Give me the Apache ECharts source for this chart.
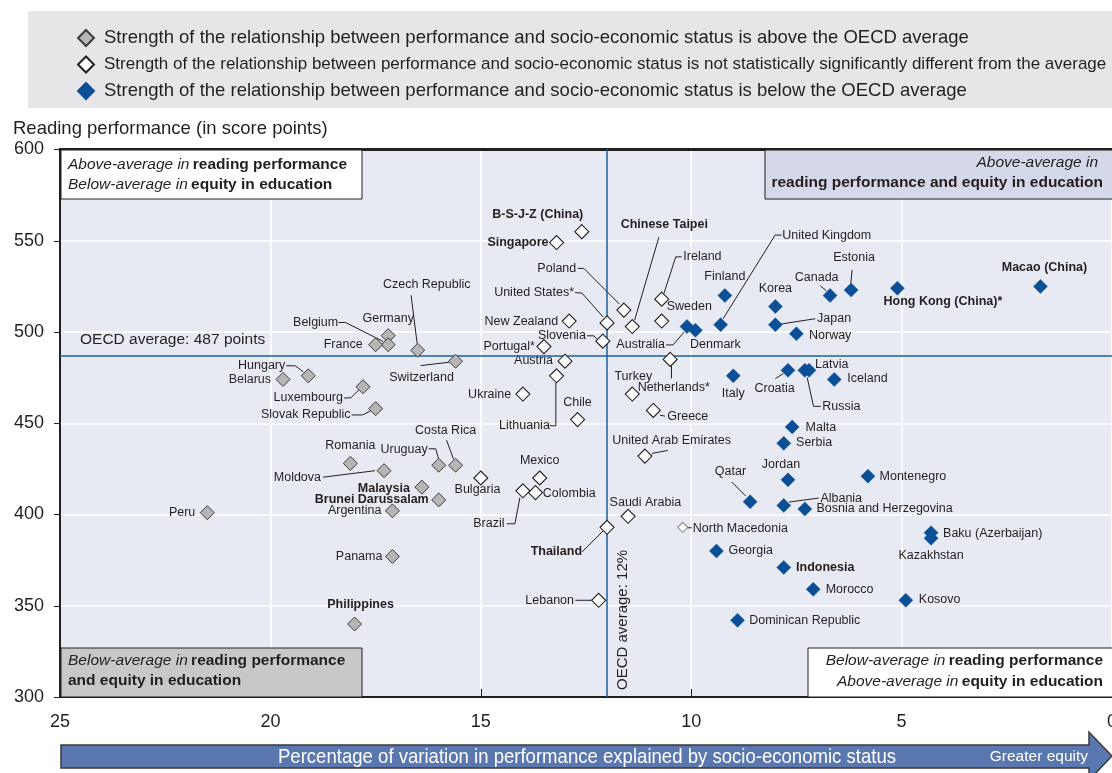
<!DOCTYPE html>
<html>
<head>
<meta charset="utf-8">
<script src="https://cdn.jsdelivr.net/npm/echarts@6/dist/echarts.min.js"></script>
<style>html,body{margin:0;padding:0;background:#fff;}#c{width:1112px;height:773px;}</style>
</head>
<body>
<div id="c"></div>
<script>
// ---------- DATA ----------
const X_TICKS = [25, 20, 15, 10, 5, 0];
const Y_TICKS = [300, 350, 400, 450, 500, 550, 600];
const OECD_AVG_SCORE = 487;
const OECD_AVG_PCT = 12;

const LEGEND_ABOVE = 'Strength of the relationship between performance and socio-economic status is above the OECD average';
const LEGEND_NS = 'Strength of the relationship between performance and socio-economic status is not statistically significantly different from the average';
const LEGEND_BELOW = 'Strength of the relationship between performance and socio-economic status is below the OECD average';

// above-average strength (grey)
const aboveNames = ['Peru','Philippines','Panama','Argentina','Moldova','Romania','Malaysia','Brunei Darussalam','Uruguay','Costa Rica','Switzerland','Czech Republic','Germany','Belgium','France','Hungary','Belarus','Luxembourg','Slovak Republic'];
const aboveVar   = [21.5, 18.0, 17.1, 17.1, 17.3, 18.1, 16.4, 16.0, 16.0, 15.6, 15.6, 16.5, 17.2, 17.2, 17.5, 19.1, 19.7, 17.8, 17.5];
const aboveScore = [401, 340, 377, 402, 424, 428, 415, 408, 427, 427, 484, 490, 498, 493, 493, 476, 474, 470, 458];

// not significantly different (white)
const nsNames = ['B-S-J-Z (China)','Singapore','Poland','United States*','Chinese Taipei','New Zealand','Slovenia','Portugal*','Austria','Lithuania','Ukraine','Chile','Ireland','Sweden','Netherlands*','Turkey','Greece','United Arab Emirates','Mexico','Bulgaria','Brazil','Colombia','Saudi Arabia','Thailand','Lebanon','North Macedonia'];
const nsVar   = [12.6, 13.2, 11.6, 12.0, 11.4, 12.9, 12.1, 13.5, 13.0, 13.2, 14.0, 12.7, 10.7, 10.7, 10.5, 11.4, 10.9, 11.1, 13.6, 15.0, 14.0, 13.7, 11.5, 12.0, 12.2, 10.2];
const nsScore = [555, 549, 512, 505, 503, 506, 495, 492, 484, 476, 466, 452, 518, 506, 485, 466, 457, 432, 420, 420, 413, 412, 399, 393, 353, 393];

// below-average strength (blue)
const belowNames = ['Finland','Australia','Denmark','United Kingdom','Italy','Korea','Japan','Norway','Canada','Estonia','Hong Kong (China)*','Macao (China)','Croatia','Russia','Latvia','Iceland','Malta','Serbia','Jordan','Montenegro','Qatar','Albania','Bosnia and Herzegovina','Baku (Azerbaijan)','Kazakhstan','Georgia','Indonesia','Morocco','Kosovo','Dominican Republic'];
const belowVar   = [9.2, 10.1, 9.9, 9.3, 9.0, 8.0, 8.0, 7.5, 6.7, 6.2, 5.1, 1.7, 7.7, 7.3, 7.2, 6.6, 7.6, 7.8, 7.7, 5.8, 8.6, 7.8, 7.3, 4.3, 4.3, 9.4, 7.8, 7.1, 4.9, 8.9];
const belowScore = [520, 503, 501, 504, 476, 514, 504, 499, 520, 523, 524, 525, 479, 479, 479, 474, 448, 439, 419, 421, 407, 405, 403, 390, 387, 380, 371, 359, 353, 342];

const BOLD_NAMES = ['B-S-J-Z (China)','Singapore','Chinese Taipei','Malaysia','Brunei Darussalam','Thailand','Philippines','Indonesia','Hong Kong (China)*','Macao (China)'];

// ---------- LABEL PLACEMENT (pixel offsets from the marker) ----------
const LABEL_PLACE = {
 'Peru': [-12,0,'r'],
 'Philippines': [6,-19,'c'],
 'Panama': [-10,0,'r'],
 'Argentina': [-11,0,'r'],
 'Brunei Darussalam': [-10,0,'r'],
 'Malaysia': [-12,1,'r'],
 'Moldova': [-63,7,'r',[[-61,6.5],[-9,0]]],
 'Romania': [0,-18,'c'],
 'Uruguay': [-11,-16,'r',[[-10,-16.4],[-3,-16.4],[0,-6]]],
 'Costa Rica': [-10,-35,'c',[[-9,-25],[-2,-6]]],
 'Switzerland': [-34,16,'c',[[-35,4.4],[-6,1]]],
 'Czech Republic': [9,-66,'c',[[-6.6,-55],[-0.5,-6.5]]],
 'Germany': [0,-17,'c'],
 'Belgium': [-50,-22.6,'r',[[-49.7,-22.3],[-42.7,-22.3],[-5,-3.3]]],
 'France': [-13,0,'r'],
 'Hungary': [-23,-10,'r',[[-22,-10],[-13,-10],[-5,-4]]],
 'Belarus': [-12,0,'r'],
 'Luxembourg': [-20,11,'r',[[-19,11.3],[-12,11],[-4,3]]],
 'Slovak Republic': [-25,6.3,'r',[[-24,6.3],[-13,6.3],[-5,2.3]]],
 'B-S-J-Z (China)': [-44,-17,'c'],
 'Singapore': [-8,0,'r'],
 'Poland': [-47.6,-41.7,'r',[[-46,-41.7],[-40,-41.7],[-4.5,-6]]],
 'United States*': [-33,-30.3,'r',[[-32,-30.3],[-25,-29.7],[-4,-6]]],
 'Chinese Taipei': [32,-101.6,'c',[[26.6,-89.3],[2.3,-6.3]]],
 'New Zealand': [-11,0,'r'],
 'Slovenia': [-17,-5.3,'r',[[-16,-5.3],[-9,-5.3],[-5,-1]]],
 'Portugal*': [-9,0,'r'],
 'Austria': [-12,-1,'r'],
 'Lithuania': [-6.7,50,'r',[[-6.7,50],[-0.7,50],[-0.7,7.3]]],
 'Ukraine': [-11.7,0,'r'],
 'Chile': [0,-17,'c'],
 'Ireland': [21.6,-42.3,'l',[[20,-42.3],[14,-42.3],[2.3,-6]]],
 'Sweden': [5,-15,'l'],
 'Netherlands*': [3.6,28,'c',[[1.3,6.7],[1.3,19]]],
 'Turkey': [1,-18,'c'],
 'Greece': [14,6.4,'l',[[6.7,4.7],[11.7,5.7]]],
 'United Arab Emirates': [26.7,-16,'c',[[23,-5.7],[7,-2.7]]],
 'Mexico': [0,-17.3,'c'],
 'Bulgaria': [-3.3,11.7,'c'],
 'Brazil': [-18.4,33,'r',[[-16,33],[-8,33],[-3,7]]],
 'Colombia': [7.3,1,'l'],
 'Saudi Arabia': [17.3,-14,'c'],
 'Thailand': [-25,24,'r',[[-25,24.6],[-3.3,3]]],
 'Lebanon': [-24.6,0,'r',[[-23.3,0],[-7,0]]],
 'North Macedonia': [10,1,'l',[[4,0.5],[9,0.5]]],
 'Finland': [0,-19,'c'],
 'Australia': [-22,18.4,'r',[[-21,18.4],[-14,18.4],[-3,5.7]]],
 'Denmark': [20,14,'c'],
 'United Kingdom': [61.6,-89.6,'l',[[61,-89.6],[54.5,-89.6],[2.5,-6]]],
 'Italy': [0,17.7,'c'],
 'Korea': [0,-18,'c'],
 'Japan': [41.7,-6,'l',[[4,-0.4],[40,-6]]],
 'Norway': [12.6,1.3,'l'],
 'Canada': [-13.4,-18,'c',[[-9.7,-9.7],[-3.7,-4.7]]],
 'Estonia': [3,-32.4,'c',[[1,-20],[-0.3,-6.7]]],
 'Hong Kong (China)*': [45.5,13.3,'c'],
 'Macao (China)': [4,-19,'c'],
 'Croatia': [-13.4,18.6,'c',[[-12.7,8.3],[-4.7,3.3]]],
 'Russia': [17.4,36,'l',[[16,36],[8.7,36],[2.4,7.3]]],
 'Latvia': [6,-5.7,'l'],
 'Iceland': [13,-1,'l'],
 'Malta': [13.4,0.7,'l'],
 'Serbia': [12.3,-0.6,'l'],
 'Jordan': [-7,-15.7,'c'],
 'Montenegro': [11.6,0.4,'l'],
 'Qatar': [-19.7,-30,'c',[[-18.4,-19.7],[-4.4,-5.7]]],
 'Albania': [36.6,-7,'l',[[5.3,-3.3],[35,-7.3]]],
 'Bosnia and Herzegovina': [11.7,0,'l'],
 'Baku (Azerbaijan)': [12,1,'l'],
 'Kazakhstan': [0,17.4,'c'],
 'Georgia': [12,0,'l'],
 'Indonesia': [12.3,0.6,'l'],
 'Morocco': [12.4,0.4,'l'],
 'Kosovo': [13,-0.6,'l'],
 'Dominican Republic': [11.7,0.3,'l']
};

// ---------- BUILD ----------
const INK = '#231f20';
const FONT = '"Liberation Sans", Arial, sans-serif';

function toItems(names, xs, ys) {
  return names.map((n, i) => {
    const it = { name: n, value: [xs[i], ys[i]] };
    if (n === 'North Macedonia') { it.symbolSize = 10; it.itemStyle = { borderColor: '#8a8a8a' }; }
    return it;
  });
}
const allNames = aboveNames.concat(nsNames, belowNames);
const allX = aboveVar.concat(nsVar, belowVar);
const allY = aboveScore.concat(nsScore, belowScore);
const labelData = allNames.map((n, i) => [allX[i], allY[i], i]);

const chart = echarts.init(document.getElementById('c'), null, { renderer: 'canvas' });

const boxRich = {
  i: { fontFamily: FONT, fontSize: 15.5, fontStyle: 'italic', fill: INK },
  b: { fontFamily: FONT, fontSize: 15.5, fontWeight: 'bold', fill: INK }
};

const option = {
  animation: false,
  backgroundColor: '#ffffff',
  grid: { left: 60, right: 0, top: 149.5, bottom: 76, show: true, backgroundColor: '#e8eaf3', borderWidth: 0, outerBoundsMode: 'none', containLabel: false },
  legend: {
    orient: 'vertical', left: 72, top: 23, itemGap: 6.5, itemWidth: 16, itemHeight: 16,
    data: [LEGEND_ABOVE, LEGEND_NS, LEGEND_BELOW],
    formatter: function (name) { return name === LEGEND_NS ? '{n|' + name + '}' : '{w|' + name + '}'; },
    textStyle: { fontFamily: FONT, fontSize: 18.5, color: INK, lineHeight: 20, padding: [0, 0, 0, 5],
      rich: { w: { fontFamily: FONT, fontSize: 18.5, color: INK, lineHeight: 20 }, n: { fontFamily: FONT, fontSize: 17, color: INK, lineHeight: 20 } } },
    selectedMode: false, z: 20
  },
  xAxis: [{
    type: 'value', inverse: true, min: 0, max: 25, interval: 5,
    axisLine: { show: true, onZero: false, lineStyle: { color: INK, width: 2 } },
    axisTick: { show: true, inside: true, length: 8, lineStyle: { color: INK, width: 1 } },
    axisLabel: { show: true, margin: 16, fontFamily: FONT, fontSize: 18, color: INK,
      formatter: v => X_TICKS.indexOf(v) >= 0 ? String(v) : '' },
    splitLine: { show: true, lineStyle: { color: '#ffffff', width: 1.5 } }
  }, {
    type: 'value', inverse: true, min: 0, max: 25, position: 'top',
    axisLine: { show: true, onZero: false, lineStyle: { color: INK, width: 3 } },
    axisTick: { show: false }, axisLabel: { show: false }, splitLine: { show: false }
  }],
  yAxis: {
    type: 'value', min: 300, max: 600, interval: 50,
    axisLine: { show: true, onZero: false, lineStyle: { color: INK, width: 2 } },
    axisTick: { show: true, inside: false, length: 6, lineStyle: { color: INK, width: 1 } },
    axisLabel: { margin: 16, fontFamily: FONT, fontSize: 18, color: INK,
      formatter: v => Y_TICKS.indexOf(v) >= 0 ? String(v) : '' },
    splitLine: { show: true, lineStyle: { color: '#ffffff', width: 1.5 } }
  },
  series: [
    {
      name: LEGEND_ABOVE, type: 'scatter', symbol: 'diamond', symbolSize: 14, z: 5,
      itemStyle: { color: '#b5b5b5', borderColor: '#3d3d3d', borderWidth: 1, opacity: 1 },
      data: toItems(aboveNames, aboveVar, aboveScore), emphasis: { disabled: true }
    },
    {
      name: LEGEND_NS, type: 'scatter', symbol: 'diamond', symbolSize: 14, z: 5,
      itemStyle: { color: '#ffffff', borderColor: INK, borderWidth: 1.1, opacity: 1 },
      data: toItems(nsNames, nsVar, nsScore), emphasis: { disabled: true }
    },
    {
      name: LEGEND_BELOW, type: 'scatter', symbol: 'diamond', symbolSize: 14, z: 5,
      itemStyle: { color: '#0b4f97', borderColor: '#0b4f97', borderWidth: 0.5, opacity: 1 },
      data: toItems(belowNames, belowVar, belowScore), emphasis: { disabled: true },
      markLine: {
        silent: true, symbol: 'none', animation: false,
        lineStyle: { color: '#1c5ea0', width: 1.5, type: 'solid' },
        data: [
          { yAxis: OECD_AVG_SCORE, label: { show: true, formatter: 'OECD average: ' + OECD_AVG_SCORE + ' points', position: 'insideEndTop', distance: [20, 8], fontFamily: FONT, fontSize: 15.5, color: INK } },
          { xAxis: OECD_AVG_PCT, label: { show: true, formatter: 'OECD average: ' + OECD_AVG_PCT + '%', position: 'insideStartBottom', distance: [7, 8], fontFamily: FONT, fontSize: 15, color: INK } }
        ]
      }
    },
    {
      name: 'labels', type: 'custom', z: 4, silent: true, clip: false,
      data: labelData,
      encode: { x: 0, y: 1 },
      renderItem: function (params, api) {
        const idx = api.value(2);
        const name = allNames[idx];
        const pt = api.coord([api.value(0), api.value(1)]);
        const P = LABEL_PLACE[name] || [10, 0, 'l'];
        const children = [];
        if (P[3]) {
          children.push({ type: 'polyline', shape: { points: P[3].map(p => [pt[0] + p[0], pt[1] + p[1]]) },
            style: { stroke: INK, lineWidth: 1, fill: null } });
        }
        const bold = BOLD_NAMES.indexOf(name) >= 0;
        children.push({ type: 'text', x: pt[0] + P[0], y: pt[1] + P[1],
          style: { text: name, fill: INK, fontFamily: FONT, fontSize: 12.5, fontWeight: bold ? 'bold' : 'normal',
            align: P[2] === 'l' ? 'left' : (P[2] === 'r' ? 'right' : 'center'), verticalAlign: 'middle' } });
        return { type: 'group', children: children };
      }
    }
  ],
  graphic: [
    // legend panel
    { type: 'rect', z: -10, shape: { x: 28, y: 11, width: 1084, height: 97 }, style: { fill: '#e6e6e8' } },
    // y axis title
    { type: 'text', x: 13, y: 129, style: { text: 'Reading performance (in score points)', fontFamily: FONT, fontSize: 18.5, fill: INK, verticalAlign: 'middle' } },
    // top-left quadrant box
    { type: 'rect', z: 50, shape: { x: 61, y: 150, width: 301, height: 49 }, style: { fill: '#ffffff', stroke: INK, lineWidth: 1 } },
    { type: 'text', z: 51, x: 68, y: 165, style: { text: '{i|Above-average in} {b|reading performance}', verticalAlign: 'middle', fill: INK, rich: boxRich } },
    { type: 'text', z: 51, x: 68, y: 185, style: { text: '{i|Below-average in} {b|equity in education}', verticalAlign: 'middle', fill: INK, rich: boxRich } },
    // top-right quadrant box
    { type: 'rect', z: 50, shape: { x: 765, y: 150, width: 350, height: 49 }, style: { fill: '#d5d8e8', stroke: INK, lineWidth: 1 } },
    { type: 'text', z: 51, x: 1098, y: 163, style: { text: 'Above-average in', align: 'right', verticalAlign: 'middle', fontFamily: FONT, fontSize: 15.5, fontStyle: 'italic', fill: INK } },
    { type: 'text', z: 51, x: 1103, y: 183, style: { text: 'reading performance and equity in education', align: 'right', verticalAlign: 'middle', fontFamily: FONT, fontSize: 15.5, fontWeight: 'bold', fill: INK } },
    // bottom-left quadrant box
    { type: 'rect', z: 50, shape: { x: 61, y: 648, width: 301, height: 49 }, style: { fill: '#c8c8c9', stroke: INK, lineWidth: 1 } },
    { type: 'text', z: 51, x: 68, y: 661, style: { text: '{i|Below-average in} {b|reading performance}', verticalAlign: 'middle', fill: INK, rich: boxRich } },
    { type: 'text', z: 51, x: 68, y: 681, style: { text: 'and equity in education', verticalAlign: 'middle', fontFamily: FONT, fontSize: 15.5, fontWeight: 'bold', fill: INK } },
    // bottom-right quadrant box
    { type: 'rect', z: 50, shape: { x: 808, y: 648, width: 310, height: 49 }, style: { fill: '#ffffff', stroke: INK, lineWidth: 1 } },
    { type: 'text', z: 51, x: 1103, y: 661, style: { text: '{i|Below-average in} {b|reading performance}', align: 'right', verticalAlign: 'middle', fill: INK, rich: boxRich } },
    { type: 'text', z: 51, x: 1103, y: 682, style: { text: '{i|Above-average in} {b|equity in education}', align: 'right', verticalAlign: 'middle', fill: INK, rich: boxRich } },
    // x-axis arrow
    { type: 'polygon', z: 50, shape: { points: [[61, 745], [1089, 745], [1089, 732], [1112, 756], [1089, 780], [1089, 768], [61, 768]] },
      style: { fill: '#5a77af', stroke: '#3a3a3a', lineWidth: 1.5 } },
    { type: 'text', z: 51, x: 587, y: 757, scaleX: 0.884, style: { text: 'Percentage of variation in performance explained by socio-economic status', align: 'center', verticalAlign: 'middle', fontFamily: FONT, fontSize: 21, fill: '#ffffff' } },
    { type: 'text', z: 51, x: 1088, y: 757, style: { text: 'Greater equity', align: 'right', verticalAlign: 'middle', fontFamily: FONT, fontSize: 15.5, fill: '#ffffff' } }
  ]
};
chart.setOption(option);
</script>
</body>
</html>
